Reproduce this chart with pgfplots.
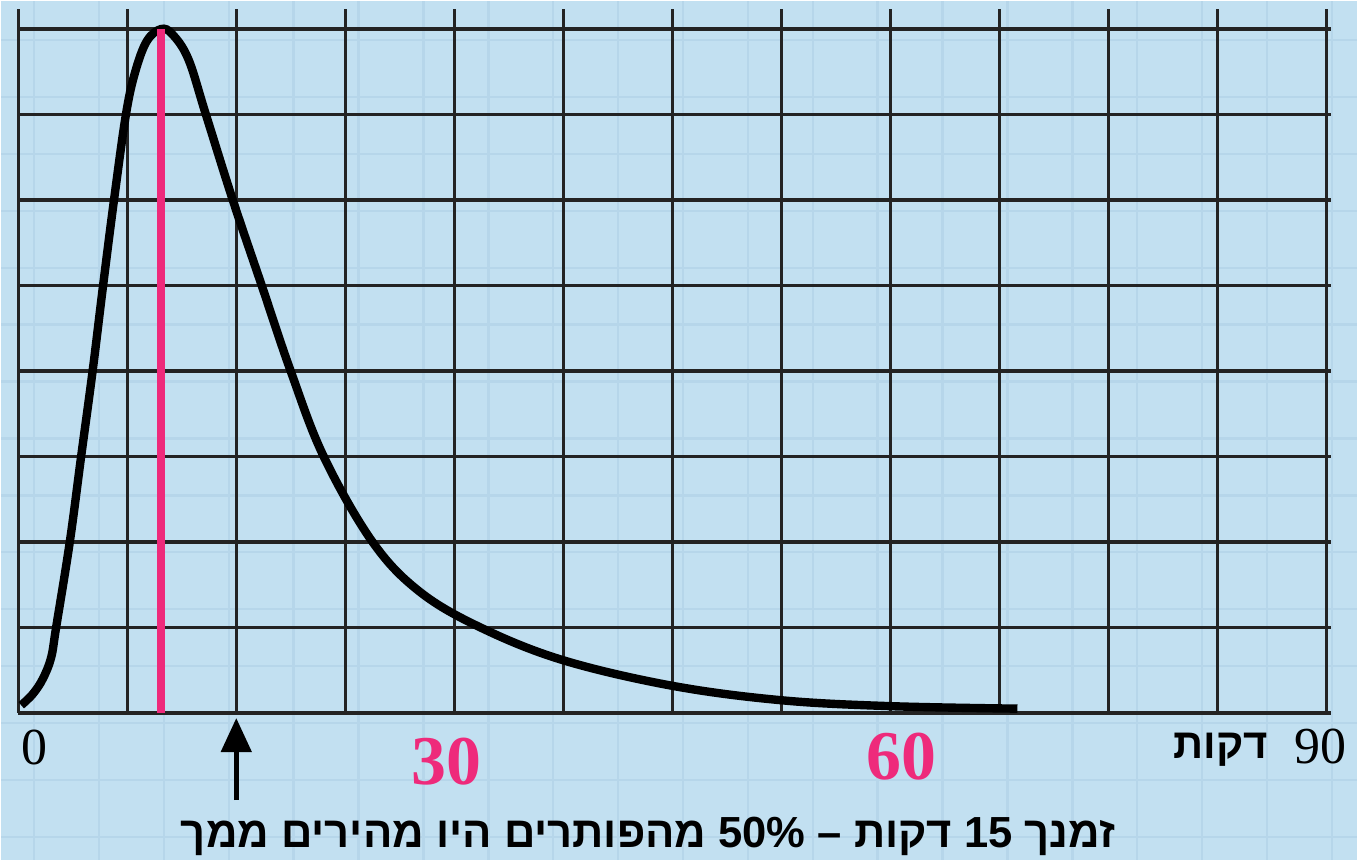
\documentclass[border=0pt]{standalone}
\usepackage{pgfplots}
\pgfplotsset{compat=1.18}
\usepackage{fontspec}
\setmainfont{Liberation Serif}
\newfontfamily\hebfont[Script=Hebrew]{Liberation Sans}
\usetikzlibrary{arrows.meta}
\TeXXeTstate=1
\definecolor{bgblue}{RGB}{194,224,241}
\definecolor{faintline}{RGB}{182,214,234}
\definecolor{gridblack}{RGB}{35,35,35}
\definecolor{pinkline}{RGB}{238,42,123}

\begin{document}
\begin{tikzpicture}
% background paper with faint squares
\fill[bgblue] (0,0) rectangle (679pt,430pt);
\foreach \i in {0,...,20} \draw[faintline, line width=1.2pt] ({16.5pt+\i*32.5pt},0) -- ++(0,430pt);
\foreach \j in {0,...,14} \draw[faintline, line width=1.2pt] (0,{11.5pt+\j*28.5pt}) -- ++(679pt,0);

\begin{axis}[
    at={(8.5pt,73.5pt)}, anchor=south west,
    scale only axis, width=657.7pt, height=352.8pt,
    xmin=0, xmax=90.3, ymin=0, ymax=8.24,
    xtick={0,7.5,15,22.5,30,37.5,45,52.5,60,67.5,75,82.5,90},
    ytick={0,1,2,3,4,5,6,7,8},
    xticklabels={}, yticklabels={},
    major tick length=0pt,
    axis line style={draw=none},
    grid=major,
    major grid style={gridblack, line width=1.6pt},
    clip=false
]

% solution-time distribution
\addplot[black, line width=4.2pt, smooth, tension=0.6, line cap=butt] coordinates {
(0.21,0.09)(1.0,0.22)(1.7,0.40)(2.27,0.65)(2.61,1.0)(3.55,2.0)(4.33,3.0)
(5.12,4.0)(5.84,5.0)(6.59,6.0)(7.41,7.0)(8.05,7.50)(8.85,7.86)(9.82,8.00)
(10.6,7.94)(11.7,7.65)(12.91,7.0)(14.76,6.0)(16.75,5.0)(18.74,4.0)
(21.01,3.0)(24.37,2.0)(27.6,1.42)(31.79,1.0)(37.41,0.62)(44.9,0.32)
(52.38,0.15)(59.86,0.08)(68.72,0.05)
};

% peak marker
\addplot[pinkline, line width=3.6pt] coordinates {(9.82,0)(9.82,8)};

\draw[-{Triangle[length=17pt,width=15pt]}, line width=2.4pt] (axis cs:15,-1.02) -- (axis cs:15,-0.06);

\node[font=\fontsize{26}{28}\selectfont] at (axis cs:1.10,-0.41) {0};
\node[font=\fontsize{26}{28}\selectfont] at (axis cs:89.59,-0.39) {90};
\node[font=\hebfont\bfseries\fontsize{21}{24}\selectfont] at (axis cs:82.72,-0.43) {\beginR דקות\endR};
\node[font=\bfseries\fontsize{35}{38}\selectfont, text=pinkline] at (axis cs:29.45,-0.57) {30};
\node[font=\bfseries\fontsize{35}{38}\selectfont, text=pinkline] at (axis cs:60.75,-0.51) {60};
\node[font=\hebfont\bfseries\fontsize{21.8}{24}\selectfont] at (axis cs:43.32,-1.45)
  {\beginR זמנך \beginL15\endL{} דקות – \beginL50\%\endL{} מהפותרים היו מהירים ממך\endR};
\end{axis}
\end{tikzpicture}
\end{document}
